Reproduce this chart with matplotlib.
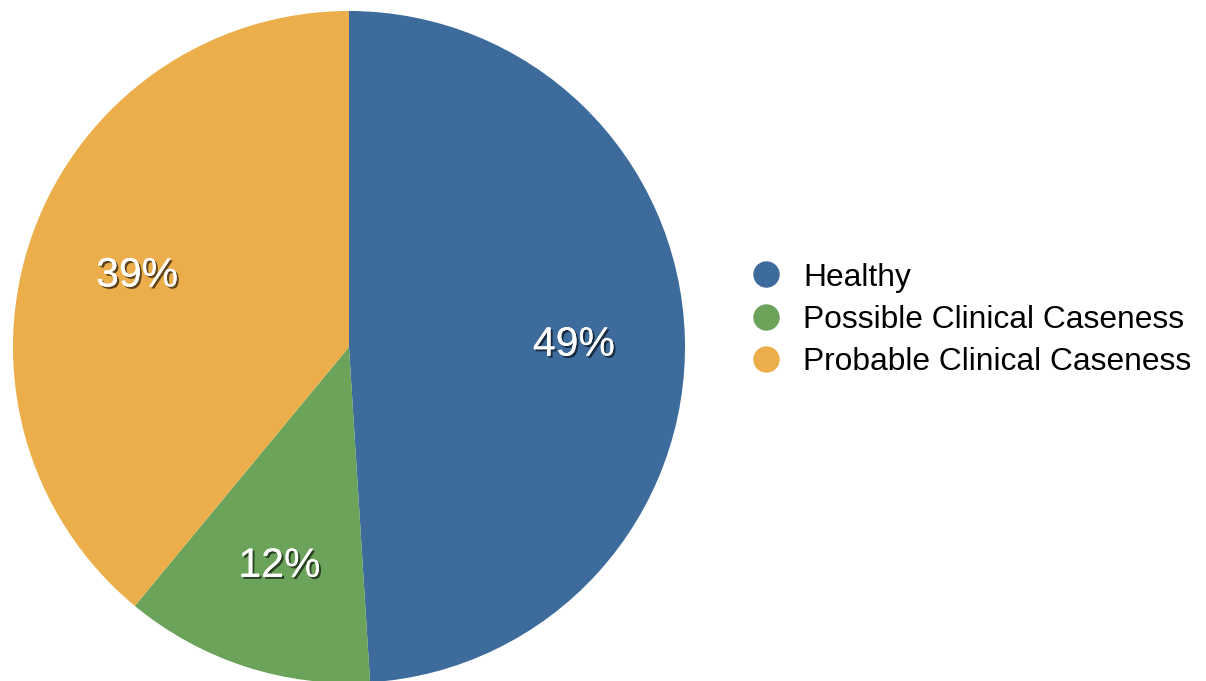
import matplotlib
matplotlib.use("Agg")
import matplotlib.pyplot as plt
import matplotlib.patheffects as pe
from matplotlib.lines import Line2D

categories = ["Healthy", "Possible Clinical Caseness", "Probable Clinical Caseness"]
values = [49, 12, 39]
colors = ["#3D6B9C", "#6BA35A", "#EBAE4A"]

plt.rcParams['font.family'] = ['Liberation Sans', 'DejaVu Sans']

fig = plt.figure(figsize=(12.06, 6.81), dpi=100)
W, H = 1206, 681
cx, cy, r = 349, 347, 336
ax = fig.add_axes([(cx - r) / W, (H - (cy + r)) / H, 2 * r / W, 2 * r / H])

wedges, texts, autotexts = ax.pie(
    values, colors=colors, startangle=90, counterclock=False,
    autopct=lambda p: f"{p:.0f}%", pctdistance=0.67, radius=1.0,
    textprops=dict(color="white", fontsize=29.5),
)
for t in autotexts:
    x, y = t.get_position()
    t.set_position((x, y - 0.014))
    t.set_path_effects([pe.withSimplePatchShadow(offset=(1.5, -1.5), shadow_rgbFace="black", alpha=0.6),
                        pe.Normal()])
ax.set_xlim(-1, 1)
ax.set_ylim(-1, 1)
ax.set_aspect('equal')

handles = [Line2D([0], [0], marker='o', linestyle='none', markersize=18,
                  markerfacecolor=c, markeredgecolor=c) for c in colors]
fig.legend(handles, categories, loc='center left', bbox_to_anchor=(750 / W, 1 - 320 / H),
           frameon=False, fontsize=22.9, labelspacing=0.39, handletextpad=0.67,
           borderpad=0, borderaxespad=0, handlelength=1.0)

fig.savefig("out.png", dpi=100)
